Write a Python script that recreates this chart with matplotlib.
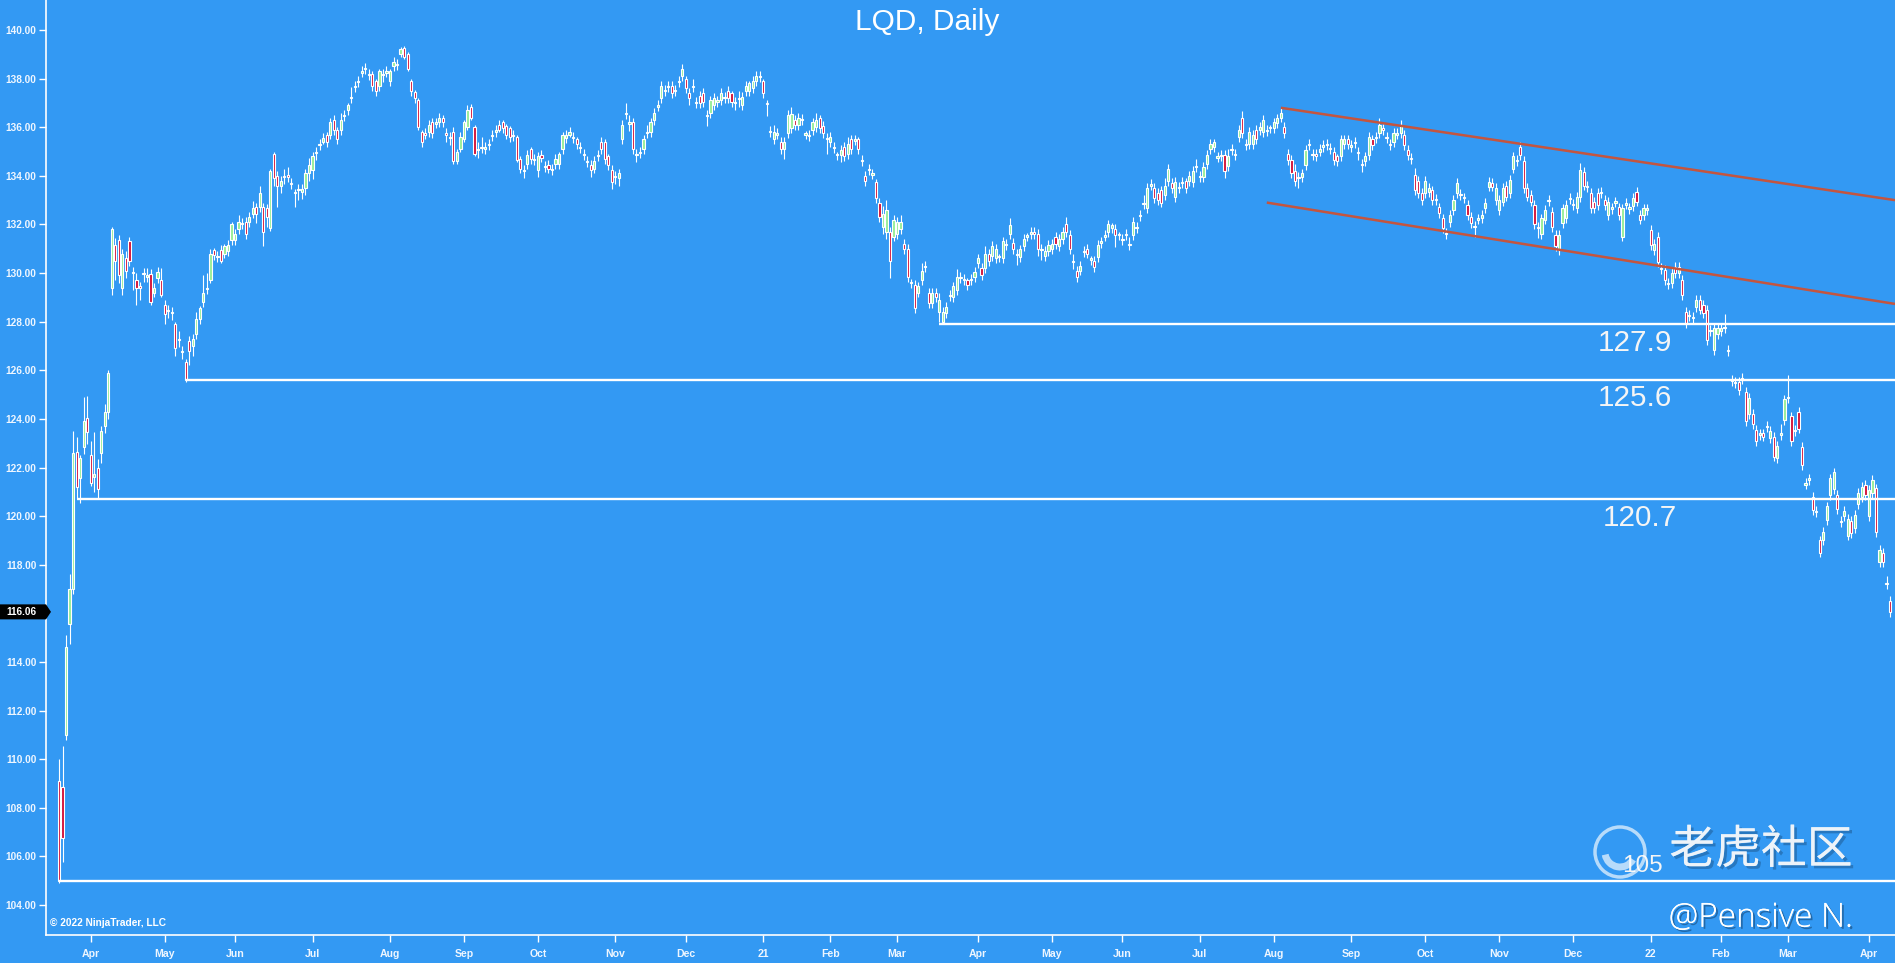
import numpy as np
import pandas as pd
import matplotlib
matplotlib.use("Agg")
import matplotlib.pyplot as plt
from matplotlib.patches import Polygon, Circle, Arc
from matplotlib import transforms
import matplotlib.patheffects as pe

# ---------------- data ----------------
TITLE = "LQD, Daily"
START, END = "2020-03-19", "2022-04-11"
HOLIDAYS = ["2020-04-10", "2020-05-25", "2020-07-03", "2020-09-07", "2020-11-26",
            "2020-12-25", "2021-01-01", "2021-01-18", "2021-02-15", "2021-04-02",
            "2021-05-31", "2021-07-05", "2021-09-06", "2021-11-25", "2021-12-24",
            "2022-01-17", "2022-02-21"]

opens = [
    109.1, 108.85, 111.0, 115.55, 117.0, 122.65, 121.55, 122.85, 124.05, 122.5,
    121.6, 121.96, 122.6, 123.7, 124.3, 129.4, 131.15, 131.35, 129.4, 130.6,
    131.3, 130.0, 129.7, 129.45, 129.95, 129.85, 129.96, 129.2, 129.8, 129.7,
    128.7, 128.45, 128.35, 127.9, 127.25, 126.75, 126.35, 127.2, 127.0, 127.5,
    128.1, 128.8, 129.35, 129.7, 130.95, 130.65, 130.95, 130.8, 130.9, 131.35,
    131.35, 131.8, 132.0, 132.1, 132.1, 132.45, 132.7, 132.7, 132.7, 132.66,
    131.84, 134.9, 134.0, 133.6, 133.95, 134.05, 133.7, 133.3, 133.4, 133.35,
    133.5, 134.1, 134.25, 134.95, 135.25, 135.4, 135.7, 135.7, 136.3, 135.9,
    135.9, 136.45, 136.7, 137.2, 137.65, 137.85, 138.25, 138.4, 138.2, 138.2,
    137.9, 137.7, 138.15, 138.25, 137.9, 138.5, 138.6, 139.0, 139.25, 139.0,
    137.9, 137.45, 137.1, 135.8, 135.75, 135.8, 136.2, 136.15, 136.2, 136.4,
    135.75, 135.55, 135.8, 134.6, 135.1, 135.5, 136.0, 136.85, 136.0, 135.05,
    135.15, 135.1, 135.25, 135.65, 135.8, 136.1, 136.2, 136.05, 135.95, 135.65,
    135.6, 134.7, 134.2, 134.5, 135.1, 134.65, 134.25, 134.85, 134.35, 134.45,
    134.25, 134.5, 134.5, 135.1, 135.55, 135.7, 135.55, 135.5, 135.15, 134.85,
    134.55, 134.45, 134.3, 134.8, 135.4, 135.4, 134.8, 134.24, 133.95, 133.9,
    135.5, 136.55, 136.15, 136.2, 134.85, 134.95, 135.1, 135.75, 135.8, 136.3,
    136.85, 137.2, 137.5, 137.65, 137.7, 137.5, 137.85, 138.1, 138.0, 137.4,
    137.65, 137.0, 137.3, 137.4, 136.45, 136.6, 136.9, 137.05, 137.1, 137.2,
    137.5, 137.4, 137.0, 137.15, 136.9, 137.5, 137.5, 137.6, 137.9, 138.05,
    137.9, 137.0, 135.8, 135.5, 135.7, 135.4, 135.1, 135.75, 135.95, 136.3,
    136.1, 136.3, 135.7, 135.65, 135.9, 136.0, 136.4, 136.05, 135.5, 135.4,
    135.15, 134.85, 134.85, 135.2, 134.9, 135.5, 135.45, 135.5, 134.6, 134.0,
    134.25, 134.05, 133.76, 132.9, 131.9, 131.7, 131.7, 131.5, 131.6, 131.8,
    131.2, 131.0, 129.6, 129.5, 129.2, 129.7, 130.25, 129.2, 128.75, 129.2,
    128.4, 128.0, 128.35, 129.05, 129.0, 129.3, 129.8, 129.75, 129.7, 129.7,
    129.85, 130.4, 130.2, 130.2, 130.8, 130.7, 130.6, 130.65, 130.6, 131.15,
    131.6, 131.25, 130.75, 130.67, 131.1, 131.5, 131.6, 131.7, 131.6, 130.95,
    130.7, 130.9, 131.0, 131.5, 131.1, 131.4, 132.0, 131.56, 130.45, 130.1,
    130.1, 130.85, 131.0, 130.55, 130.5, 130.67, 131.25, 131.5, 131.7, 131.84,
    131.8, 131.55, 131.35, 131.55, 131.15, 131.56, 131.85, 132.35, 132.85, 132.66,
    133.6, 133.5, 133.3, 133.4, 133.2, 133.8, 133.7, 133.14, 133.5, 133.7,
    133.8, 133.8, 133.76, 134.35, 133.95, 133.96, 134.5, 135.1, 135.2, 134.75,
    134.8, 134.85, 134.4, 135.05, 134.85, 135.6, 136.36, 135.25, 135.3, 135.3,
    135.9, 135.9, 135.8, 135.85, 135.95, 135.95, 136.16, 136.4, 136.0, 134.9,
    134.65, 134.2, 133.9, 133.96, 134.44, 135.25, 134.85, 134.9, 135.0, 135.2,
    135.25, 135.15, 135.0, 134.8, 134.8, 135.3, 135.5, 135.2, 135.35, 135.0,
    134.5, 134.6, 134.85, 135.5, 135.55, 135.75, 135.95, 135.6, 135.3, 135.4,
    135.7, 135.75, 135.7, 135.06, 134.75, 134.04, 133.8, 133.3, 133.3, 133.35,
    133.4, 133.05, 132.7, 132.25, 131.65, 132.1, 132.6, 133.3, 133.25, 133.1,
    132.8, 132.3, 131.95, 132.2, 132.25, 132.66, 133.56, 133.7, 133.0, 132.6,
    132.94, 133.6, 133.3, 134.3, 134.6, 135.2, 134.6, 133.5, 133.2, 132.8,
    131.9, 131.6, 132.2, 132.95, 132.5, 131.57, 130.95, 132.05, 132.25, 133.05,
    132.85, 132.66, 133.14, 134.17, 133.55, 133.3, 132.94, 133.3, 133.3, 133.0,
    132.4, 132.65, 132.9, 132.7, 131.5, 132.82, 132.65, 132.74, 133.35, 132.4,
    132.4, 132.6, 131.77, 130.95, 131.5, 130.15, 130.13, 129.55, 129.6, 130.26,
    130.0, 129.7, 128.4, 128.22, 128.15, 128.6, 128.9, 128.7, 128.5, 127.6,
    126.83, 127.5, 127.6, 127.75, 126.78, 125.55, 125.48, 125.53, 125.62, 125.1,
    124.2, 124.2, 123.54, 123.35, 123.4, 123.65, 123.2, 123.27, 122.4, 123.35,
    123.95, 124.85, 124.1, 123.5, 124.3, 122.85, 121.3, 121.5, 120.8, 120.15,
    119.0, 119.0, 119.84, 120.87, 121.1, 120.87, 119.75, 120.0, 119.2, 119.8,
    119.5, 120.5, 120.8, 121.3, 120.0, 120.94, 121.14, 118.1, 118.5, 117.2,
    116.5,
]

closes = [
    105.0, 106.75, 114.6, 117.0, 122.6, 121.2, 122.4, 123.9, 123.47, 121.35,
    121.75, 121.1, 123.5, 124.3, 125.9, 131.8, 130.5, 129.9, 130.8, 130.1,
    130.5, 130.05, 129.4, 129.4, 130.0, 129.9, 128.8, 129.4, 130.05, 129.1,
    128.3, 128.5, 128.4, 126.9, 127.3, 126.8, 125.6, 126.8, 127.3, 128.1,
    128.55, 129.2, 129.4, 130.8, 130.75, 130.7, 130.5, 131.1, 131.15, 132.0,
    131.6, 132.1, 132.05, 131.6, 132.3, 132.66, 132.45, 133.3, 131.7, 132.3,
    134.2, 133.9, 133.6, 133.8, 134.0, 133.95, 133.65, 133.35, 133.45, 133.45,
    134.1, 134.45, 134.8, 135.0, 135.3, 135.55, 135.4, 136.2, 135.9, 135.5,
    136.3, 136.5, 136.9, 137.25, 137.7, 137.9, 138.3, 138.45, 138.15, 137.7,
    137.5, 138.3, 138.2, 138.3, 138.3, 138.7, 138.55, 139.2, 138.9, 138.4,
    137.5, 137.2, 136.0, 135.4, 135.7, 136.1, 135.75, 136.2, 136.4, 136.2,
    135.7, 135.6, 134.6, 135.0, 135.6, 136.2, 136.7, 136.4, 134.9, 135.1,
    135.2, 135.2, 135.3, 135.7, 135.9, 135.9, 135.95, 135.7, 135.6, 135.7,
    134.65, 134.3, 134.25, 134.85, 134.7, 134.7, 134.8, 134.75, 134.4, 134.3,
    134.3, 134.7, 134.9, 135.7, 135.7, 135.8, 135.6, 135.3, 135.2, 134.9,
    134.6, 134.25, 134.6, 134.85, 135.1, 134.7, 134.45, 133.76, 134.0, 134.1,
    136.1, 136.6, 136.2, 135.1, 134.9, 135.0, 135.5, 135.8, 136.2, 136.6,
    136.9, 137.7, 137.55, 137.7, 137.4, 137.55, 137.9, 138.4, 137.6, 137.2,
    137.7, 137.05, 137.0, 137.05, 136.5, 137.1, 137.2, 137.1, 137.4, 137.25,
    137.2, 137.05, 137.05, 137.2, 137.26, 137.7, 137.8, 137.9, 138.1, 138.1,
    137.4, 136.95, 135.85, 135.8, 135.75, 135.1, 135.4, 136.5, 136.55, 136.1,
    136.4, 136.35, 135.75, 135.7, 136.2, 136.3, 135.95, 135.75, 135.55, 135.6,
    135.2, 134.9, 135.05, 134.8, 135.3, 135.1, 135.5, 135.1, 134.65, 133.8,
    134.3, 134.1, 133.1, 132.3, 132.45, 132.6, 130.5, 132.2, 132.1, 132.1,
    131.0, 129.85, 129.65, 128.55, 129.45, 130.1, 130.3, 128.75, 129.2, 129.0,
    128.9, 128.4, 128.6, 129.1, 129.45, 129.85, 129.85, 129.7, 129.5, 129.75,
    130.05, 130.6, 129.9, 130.8, 130.5, 131.1, 131.0, 130.7, 131.3, 131.2,
    131.97, 131.0, 130.8, 130.97, 131.4, 131.56, 131.7, 131.6, 131.0, 131.0,
    130.9, 131.15, 131.2, 131.2, 131.4, 131.7, 131.7, 131.0, 130.5, 129.85,
    130.3, 130.9, 130.8, 130.6, 130.26, 131.15, 131.3, 131.56, 132.0, 131.97,
    131.56, 131.6, 131.4, 131.6, 131.2, 132.1, 131.9, 132.4, 132.9, 133.5,
    133.66, 133.1, 133.0, 132.9, 133.6, 134.3, 133.5, 133.76, 133.55, 133.76,
    133.5, 134.0, 134.2, 134.4, 134.0, 134.35, 134.85, 135.3, 135.4, 134.8,
    134.85, 134.2, 134.8, 135.1, 134.9, 135.9, 135.75, 135.3, 135.8, 135.7,
    135.5, 136.0, 136.3, 135.9, 136.0, 136.2, 136.36, 136.6, 135.75, 134.65,
    134.1, 133.8, 133.96, 134.1, 135.06, 135.3, 134.9, 134.8, 135.1, 135.26,
    135.3, 135.1, 134.65, 134.6, 135.5, 135.5, 135.3, 135.26, 135.4, 134.95,
    134.44, 134.8, 135.6, 135.26, 135.6, 136.1, 135.9, 135.54, 135.26, 135.75,
    135.75, 136.1, 135.26, 134.85, 134.7, 133.4, 133.3, 133.0, 133.8, 133.5,
    133.0, 133.0, 132.46, 131.84, 131.6, 132.4, 133.0, 133.7, 133.2, 133.08,
    132.4, 132.05, 131.9, 132.25, 132.4, 132.87, 133.76, 133.56, 133.5, 133.0,
    133.5, 133.15, 133.83, 134.8, 134.65, 134.86, 133.5, 133.15, 132.94, 132.0,
    131.84, 132.25, 132.6, 133.0, 131.9, 131.1, 131.57, 132.66, 132.8, 133.1,
    132.8, 133.14, 134.24, 133.6, 133.6, 132.66, 132.66, 132.8, 133.35, 132.8,
    132.94, 132.7, 132.94, 132.4, 132.66, 132.87, 132.7, 133.08, 132.94, 132.2,
    132.66, 132.66, 131.16, 131.2, 130.47, 130.2, 129.7, 129.6, 130.0, 130.0,
    130.25, 129.1, 127.93, 128.27, 128.2, 128.9, 128.5, 128.35, 127.25, 127.66,
    127.73, 127.73, 127.75, 127.8, 126.83, 125.6, 125.53, 125.2, 125.67, 123.9,
    124.85, 123.8, 123.1, 123.4, 123.27, 123.7, 123.5, 122.45, 122.9, 123.4,
    124.8, 124.9, 123.1, 123.54, 123.6, 122.1, 121.35, 121.55, 120.25, 120.2,
    118.5, 119.36, 120.4, 121.55, 121.8, 120.3, 119.8, 120.2, 119.9, 119.3,
    120.05, 120.94, 121.2, 120.87, 121.07, 121.5, 119.36, 118.6, 118.1, 117.25,
    116.06,
]

# wick lengths beyond the body, in tenths of a dollar
wick_up = [
    9, 17, 5, 6, 9, 6, 1, 10, 9, 6,
    17, 4, 2, 3, 1, 1, 3, 2, 2, 3,
    2, 2, 3, 2, 2, 3, 2, 2, 2, 5,
    2, 2, 2, 1, 3, 2, 1, 2, 2, 3,
    1, 7, 6, 2, 1, 2, 2, 1, 2, 1,
    2, 3, 2, 2, 2, 3, 2, 3, 2, 2,
    1, 1, 2, 2, 3, 3, 2, 1, 2, 2,
    2, 3, 2, 2, 2, 2, 1, 2, 2, 1,
    3, 2, 1, 4, 2, 2, 2, 2, 2, 1,
    1, 1, 2, 2, 1, 2, 2, 1, 1, 1,
    1, 1, 1, 1, 2, 2, 2, 2, 2, 1,
    2, 2, 2, 1, 2, 1, 2, 1, 1, 3,
    4, 2, 2, 2, 2, 2, 1, 1, 1, 2,
    1, 1, 2, 2, 1, 2, 2, 2, 2, 2,
    2, 2, 1, 1, 2, 2, 2, 1, 2, 2,
    2, 2, 2, 2, 2, 1, 1, 2, 2, 2,
    2, 4, 3, 2, 2, 2, 2, 3, 2, 2,
    2, 2, 2, 2, 2, 2, 2, 2, 1, 2,
    3, 2, 2, 2, 2, 2, 2, 2, 2, 2,
    2, 1, 2, 3, 2, 2, 1, 2, 2, 2,
    1, 1, 2, 3, 2, 2, 2, 2, 3, 2,
    2, 2, 1, 2, 2, 3, 1, 2, 2, 2,
    2, 1, 2, 2, 3, 2, 2, 1, 2, 2,
    2, 2, 1, 2, 3, 4, 2, 2, 2, 3,
    2, 2, 1, 2, 2, 3, 2, 2, 2, 2,
    3, 2, 2, 2, 2, 3, 2, 2, 1, 2,
    2, 2, 2, 3, 2, 2, 2, 1, 2, 2,
    3, 2, 2, 2, 2, 1, 2, 2, 2, 2,
    2, 2, 2, 2, 2, 2, 3, 2, 3, 2,
    2, 2, 2, 1, 2, 2, 2, 2, 2, 1,
    2, 1, 2, 2, 3, 2, 2, 2, 3, 2,
    2, 2, 2, 2, 3, 2, 2, 2, 2, 2,
    1, 2, 2, 3, 2, 2, 2, 2, 1, 2,
    2, 2, 3, 2, 2, 2, 3, 2, 2, 2,
    2, 2, 2, 2, 1, 2, 2, 2, 2, 2,
    2, 3, 2, 2, 2, 2, 2, 2, 2, 2,
    2, 2, 2, 1, 2, 2, 2, 2, 2, 2,
    2, 2, 2, 2, 2, 3, 2, 2, 2, 2,
    2, 2, 2, 2, 2, 3, 2, 2, 2, 2,
    2, 2, 2, 2, 2, 2, 2, 2, 2, 2,
    2, 2, 2, 2, 2, 2, 2, 2, 2, 2,
    2, 2, 2, 2, 2, 2, 2, 2, 2, 2,
    2, 2, 2, 2, 2, 2, 2, 2, 2, 2,
    2, 2, 3, 2, 2, 2, 2, 2, 2, 2,
    2, 2, 2, 2, 2, 2, 2, 2, 2, 2,
    2, 2, 2, 2, 2, 2, 2, 2, 2, 2,
    2, 2, 2, 2, 2, 2, 2, 2, 2, 2,
    2, 2, 2, 5, 2, 2, 2, 2, 2, 2,
    2, 2, 2, 2, 2, 2, 2, 2, 2, 4,
    2, 9, 2, 2, 2, 2, 2, 2, 2, 2,
    2, 2, 2, 2, 2, 2, 2, 2, 2, 2,
    2, 2, 2, 2, 2, 2, 2, 2, 2, 3,
    2,
]

wick_dn = [
    1, 10, 2, 8, 2, 5, 10, 3, 5, 1,
    6, 4, 4, 3, 3, 3, 8, 3, 3, 3,
    2, 7, 7, 5, 3, 2, 1, 2, 2, 1,
    4, 3, 3, 3, 3, 3, 1, 6, 4, 2,
    2, 2, 2, 1, 2, 2, 1, 2, 2, 2,
    2, 2, 2, 2, 2, 2, 4, 2, 6, 4,
    1, 3, 9, 3, 3, 2, 2, 6, 4, 3,
    3, 3, 4, 3, 2, 1, 2, 2, 2, 2,
    2, 2, 2, 2, 2, 2, 2, 2, 2, 2,
    2, 2, 3, 2, 2, 2, 2, 1, 1, 1,
    2, 2, 1, 2, 2, 2, 2, 2, 2, 2,
    3, 3, 1, 1, 1, 1, 1, 1, 1, 3,
    2, 2, 2, 2, 2, 1, 2, 2, 2, 2,
    1, 2, 3, 2, 2, 2, 3, 2, 2, 2,
    2, 2, 2, 2, 2, 1, 2, 2, 2, 2,
    2, 3, 2, 2, 2, 2, 2, 3, 3, 3,
    2, 2, 3, 2, 3, 2, 2, 2, 2, 2,
    2, 2, 2, 2, 2, 2, 2, 2, 2, 3,
    2, 2, 2, 2, 4, 2, 2, 2, 2, 2,
    2, 2, 3, 3, 2, 2, 2, 2, 2, 2,
    2, 5, 2, 2, 2, 2, 4, 2, 2, 2,
    2, 2, 2, 2, 2, 2, 2, 2, 6, 2,
    2, 2, 3, 2, 2, 2, 2, 2, 2, 2,
    2, 2, 2, 2, 3, 3, 7, 2, 2, 2,
    2, 2, 2, 2, 2, 2, 2, 2, 2, 2,
    4, 1, 2, 2, 2, 2, 2, 2, 2, 2,
    2, 2, 2, 2, 2, 2, 2, 2, 2, 2,
    2, 2, 4, 2, 2, 2, 2, 2, 3, 4,
    2, 2, 2, 2, 2, 2, 2, 2, 3, 2,
    2, 2, 2, 2, 2, 2, 2, 2, 2, 2,
    5, 2, 2, 2, 2, 2, 2, 2, 2, 2,
    2, 2, 2, 2, 2, 2, 2, 2, 2, 2,
    2, 2, 2, 2, 2, 2, 2, 2, 2, 2,
    2, 3, 2, 2, 2, 2, 2, 2, 2, 2,
    2, 2, 2, 2, 2, 2, 2, 2, 2, 2,
    2, 2, 4, 2, 2, 2, 2, 2, 2, 2,
    2, 2, 2, 2, 2, 2, 2, 2, 2, 3,
    3, 2, 2, 2, 2, 2, 2, 2, 2, 2,
    2, 2, 2, 2, 2, 2, 2, 2, 2, 2,
    2, 2, 2, 2, 2, 2, 2, 2, 2, 2,
    2, 2, 4, 2, 2, 2, 2, 2, 2, 2,
    2, 2, 2, 2, 2, 2, 2, 2, 2, 2,
    4, 2, 2, 2, 2, 2, 2, 2, 2, 2,
    2, 2, 2, 2, 2, 2, 2, 2, 2, 2,
    2, 2, 2, 2, 2, 2, 2, 2, 2, 2,
    2, 2, 2, 2, 2, 2, 2, 2, 2, 2,
    2, 2, 2, 2, 2, 2, 2, 2, 2, 2,
    2, 2, 2, 2, 2, 2, 2, 2, 2, 2,
    2, 2, 2, 2, 2, 2, 2, 2, 2, 2,
    2, 2, 2, 2, 2, 2, 2, 2, 2, 2,
    2, 2, 2, 2, 2, 2, 2, 2, 2, 2,
    2, 2, 2, 2, 2, 2, 2, 2, 2, 2,
    2,
]

LEVELS = [105.0, 120.7, 125.6, 127.9]
LEVEL_START = [0, 5, 36, 250]
LEVEL_LABELS = ["105", "120.7", "125.6", "127.9"]
CHANNEL_UPPER = [(347, 136.8), (521.4, 133.0)]
CHANNEL_LOWER = [(343, 132.9), (521.4, 128.73)]
LAST_PRICE = 116.06

# ---------------- style ----------------
W, H = 1895, 963
BG = "#3399f3"
UP_FILL = "#98ee98"
DN_FILL = "#d2143a"
CHANNEL_COLOR = "#c4553f"
LATIN = ["Liberation Sans", "DejaVu Sans"]

fig = plt.figure(figsize=(W / 100, H / 100), dpi=100, facecolor=BG)
ax = fig.add_axes([46 / W, 28 / H, (W - 46) / W, 935 / H], facecolor=BG)

n = min(len(opens), len(closes), len(wick_up), len(wick_dn))
o = np.array(opens[:n], dtype=float)
c = np.array(closes[:n], dtype=float)
hi = np.maximum(o, c) + np.array(wick_up[:n]) / 10.0
lo = np.minimum(o, c) - np.array(wick_dn[:n]) / 10.0
x = np.arange(n)

# trading dates
bdays = pd.bdate_range(START, END)
bdays = bdays[~bdays.isin(pd.to_datetime(HOLIDAYS))]
dates = bdays[:n]

ax.vlines(x, lo, hi, color="white", lw=0.8, zorder=2)
body_bottom = np.minimum(o, c)
body_h = np.maximum(np.abs(c - o), 0.05)
fills = np.where(c >= o, UP_FILL, DN_FILL)
ax.bar(x, body_h, bottom=body_bottom, width=0.62, color=fills,
       edgecolor="white", linewidth=0.8, zorder=3)

XMAX = 521.4
ax.set_xlim(-3.69, XMAX)
ax.set_ylim(102.765, 141.235)

# horizontal support levels
for lvl, s in zip(LEVELS, LEVEL_START):
    ax.hlines(lvl, s, XMAX, color="white", lw=1.7, zorder=4)

label_pos = {"127.9": (447.6, 127.12), "125.6": (447.6, 124.86),
             "120.7": (449.0, 119.92), "105": (449.6, 105.62)}
for lab in LEVEL_LABELS:
    lx, ly = label_pos[lab]
    fs = 17.5 if lab == "105" else 21.3
    ax.text(lx, ly, lab, ha="center", va="center", fontsize=fs,
            color="#f5f5f5", family=LATIN, zorder=6)

# descending channel
for seg in (CHANNEL_UPPER, CHANNEL_LOWER):
    ax.plot([seg[0][0], seg[1][0]], [seg[0][1], seg[1][1]],
            color=CHANNEL_COLOR, lw=1.8, zorder=5, solid_capstyle="butt")

# axes styling
for side in ("top", "right"):
    ax.spines[side].set_visible(False)
for side in ("left", "bottom"):
    ax.spines[side].set_color("white")
    ax.spines[side].set_linewidth(1.2)

yt = np.arange(104, 141, 2)
ax.set_yticks(yt)
ax.set_yticklabels([f"{v:.2f}" for v in yt])
ax.tick_params(axis="y", colors="white", labelcolor="#eef6ff", length=5,
               width=1, pad=2, labelsize=7.3)

tick_idx, tick_lab = [], []
for i in range(1, n):
    if dates[i].month != dates[i - 1].month:
        tick_idx.append(i)
        d = dates[i]
        tick_lab.append(d.strftime("%y") if d.month == 1 else d.strftime("%b"))
ax.set_xticks(tick_idx)
ax.set_xticklabels(tick_lab)
ax.tick_params(axis="x", colors="white", labelcolor="#eef6ff", length=5,
               width=1, pad=5, labelsize=7.6)
for lab in ax.get_yticklabels() + ax.get_xticklabels():
    lab.set_family(LATIN)
    lab.set_fontweight("bold")

# last price marker
bt = transforms.blended_transform_factory(fig.transFigure, ax.transData)
hh = 7.5 / 24.3
poly = Polygon([(0, LAST_PRICE - hh), (46 / W, LAST_PRICE - hh), (51 / W, LAST_PRICE),
                (46 / W, LAST_PRICE + hh), (0, LAST_PRICE + hh)],
               closed=True, facecolor="black", edgecolor="none",
               transform=bt, clip_on=False, zorder=10)
ax.add_patch(poly)
ax.text(6 / W, LAST_PRICE, f"{LAST_PRICE:.2f}", transform=bt, ha="left", va="center",
        color="white", fontsize=7.2, fontweight="bold", family=LATIN, zorder=11, clip_on=False)

# title and texts
fig.text(927 / W, 1 - 22 / H, TITLE, ha="center", va="center", fontsize=21.5,
         color="white", family=LATIN)
fig.text(50 / W, 1 - 922.5 / H, "\u00a9 2022 NinjaTrader, LLC", ha="left", va="center",
         fontsize=7.3, color="white", family=LATIN, fontweight="bold")

# watermark
shadow = [pe.withSimplePatchShadow(offset=(2, -2), shadow_rgbFace="#1a4f80", alpha=0.45),
          pe.Normal()]
fig.text(1761 / W, 1 - 850 / H, "老虎社区", ha="center", va="center", fontsize=33,
         color="#f2f6fa", alpha=0.85, family=["Noto Sans CJK SC", "DejaVu Sans"],
         fontweight="medium", path_effects=shadow)
idt = transforms.IdentityTransform()
fig.add_artist(Circle((1620, H - 852), 25, transform=idt, fill=False,
                      edgecolor="white", lw=2.5, alpha=0.65))
fig.add_artist(Arc((1620, H - 852), 30, 30, theta1=190, theta2=330, transform=idt,
                   edgecolor="white", lw=5, alpha=0.65))
fig.text(1761 / W, 1 - 918 / H, "@Pensive N.", ha="center", va="center", fontsize=24,
         color="white", family=["Open Sans", "DejaVu Sans"], fontweight="light",
         path_effects=[pe.withSimplePatchShadow(offset=(1.5, -1.5), shadow_rgbFace="#123a60",
                                                alpha=0.5), pe.Normal()])

fig.savefig("out.png", dpi=100, facecolor=BG)
